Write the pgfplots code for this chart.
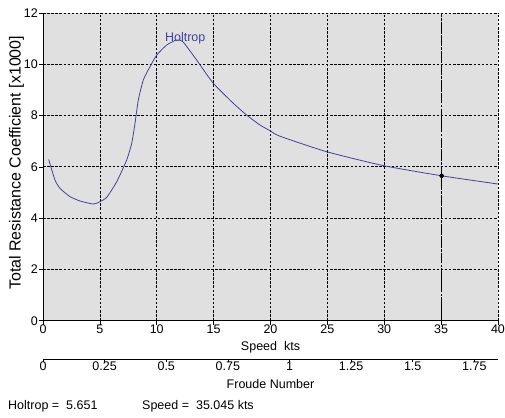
\documentclass[border=0pt]{standalone}
\usepackage{pgfplots}
\pgfplotsset{compat=1.18}
\usepackage{fontspec}
\setmainfont{Liberation Sans}
\definecolor{plotbg}{RGB}{224,224,224}
\definecolor{curveblue}{RGB}{66,66,160}

\pgfplotstableread{
v      c
0.5    6.29
1.05   5.49
1.5    5.16
2.37   4.84
3.25   4.67
4.42   4.55
5.0    4.64
5.6    4.81
6.48   5.42
7.36   6.27
7.8    6.92
8.09   7.70
8.38   8.61
8.82   9.39
9.41   9.91
10.0   10.36
10.87  10.75
11.75  10.95
12.3   10.88
13.5   10.17
14.97  9.26
16.73  8.48
17.9   8.02
19.08  7.63
19.96  7.41
20.8   7.20
24.94  6.59
29.9   6.05
35.045 5.651
40.0   5.33
}\holtrop

\begin{document}
\begin{tikzpicture}[font=\fontsize{12.5bp}{14bp}\selectfont]
\useasboundingbox (-43bp,-97.3bp) rectangle (462bp,320.7bp);

% resistance coefficient against speed
\begin{axis}[
  at={(0,0)}, anchor=south west,
  scale only axis, width=455bp, height=307.7bp,
  xmin=0, xmax=40, ymin=0, ymax=12,
  xtick={0,5,...,40}, ytick={0,2,...,12},
  axis x line*=bottom, axis y line*=left,
  axis line style={black, line width=0.8bp, -},
  axis background/.style={fill=plotbg},
  tick align=outside, major tick length=4bp,
  tick style={black, line width=0.6bp},
  grid=major,
  major grid style={black, line width=0.7bp, dash pattern=on 2.5bp off 1.6bp},
  /pgf/number format/assume math mode=true,
  xticklabel style={inner sep=1bp, yshift=1bp},
  yticklabel style={inner sep=1bp},
  xlabel={Speed\ \ kts},
  xlabel style={at={(axis description cs:0.5,0)}, anchor=center, yshift=-26.5bp},
  ylabel={Total Resistance Coefficient [x1000]},
  ylabel style={at={(axis description cs:0,0.513)}, anchor=center, rotate=0,
    yshift=26.5bp, font=\fontsize{16bp}{18bp}\selectfont},
]
\addplot[curveblue, line width=0.8bp, smooth, tension=0.35] table[x=v, y=c] {\holtrop};
\addplot[black, line width=1.1bp, dash pattern=on 9bp off 2bp on 1.5bp off 2bp]
  coordinates {(35.045,0) (35.045,12)};
\addplot[only marks, mark=*, mark size=2bp, black] coordinates {(35.045,5.651)};
\node[curveblue, anchor=center] at (axis cs:12.5,11.0) {Holtrop};
\end{axis}

% Froude number scale
\begin{axis}[
  at={(0,-38.3bp)}, anchor=south west,
  scale only axis, width=455bp, height=1bp,
  xmin=0, xmax=1.846, ymin=0, ymax=1,
  axis x line*=bottom, axis y line=none,
  axis line style={black, line width=0.8bp, -},
  xtick={0,0.25,0.5,0.75,1,1.25,1.5,1.75},
  xticklabels={0,0.25,0.5,0.75,1,1.25,1.5,1.75},
  tick align=outside, major tick length=3bp,
  tick style={black, line width=0.6bp},
  xticklabel style={inner sep=1bp, yshift=1bp},
  xlabel={Froude Number},
  xlabel style={at={(axis description cs:0.5,0)}, anchor=center, yshift=-25bp},
]
\end{axis}

\node[anchor=west, inner sep=0] at (-35bp,-85.5bp) {Holtrop =\ \ 5.651};
\node[anchor=west, inner sep=0] at (99bp,-85.5bp) {Speed =\ \ 35.045 kts};
\end{tikzpicture}
\end{document}
